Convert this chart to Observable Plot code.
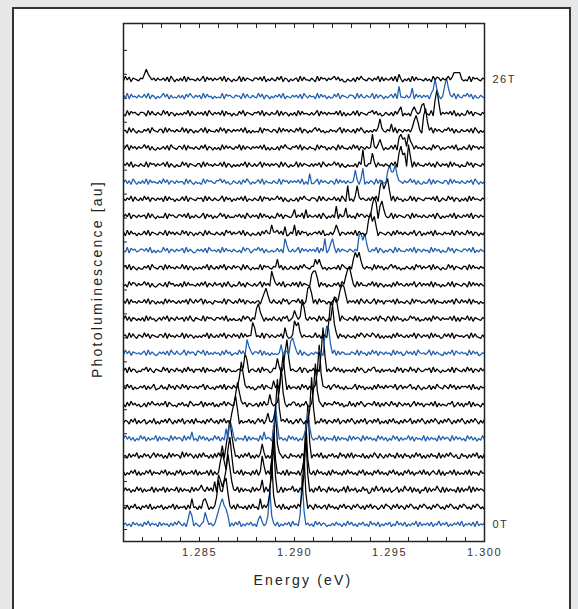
<!DOCTYPE html>
<html>
<head>
<meta charset="utf-8">
<script src="https://cdn.jsdelivr.net/npm/d3@7"></script>
<script src="https://cdn.jsdelivr.net/npm/@observablehq/plot@0.6"></script>
<style>
  html, body { margin:0; padding:0; width:578px; height:609px; overflow:hidden; background:#e6e7e9; font-family:"Liberation Sans", Arial, sans-serif; }
  #panel { position:absolute; left:12px; top:7px; width:555px; height:640px; background:#fff; border:2px solid #333; }
  #chart { position:absolute; left:0; top:0; }
  #chart svg text { letter-spacing:1.5px; }
  .title { position:absolute; font-size:14px; letter-spacing:2.2px; color:#222; white-space:nowrap; transform:translate(-50%,-50%); }
  #ytitle { transform:translate(-50%,-50%) rotate(-90deg); }
</style>
</head>
<body>
<div id="panel"></div>
<div id="chart"></div>
<div class="title" id="xtitle" style="left:303px; top:580px;">Energy (eV)</div>
<div class="title" id="ytitle" style="left:97px; top:279px;">Photoluminescence [au]</div>
<script>
// magnetic field of each spectrum (T), bottom to top
const fields = [0,1,2,3,4,5,6,7,8,9,10,11,12,13,14,15,16,17,18,19,20,21,22,23,24,25,26];
const blueFields = [0,5,10,16,20,25];
const labelledFields = [0,26];
// energy grid of the spectra (eV)
const energyStart = 1.281;
const energyStep = 0.0001;
const xTicks = [1.281,1.282,1.283,1.284,1.285,1.286,1.287,1.288,1.289,1.290,1.291,1.292,1.293,1.294,1.295,1.296,1.297,1.298,1.299,1.300];
const xLabels = [1.285,1.290,1.295,1.300];
const yTicks = [277,263,249,235,221,207,193,179,165,151,137,123,109,95,81,67,53,39,25,11,-3];

// background noise level of each spectrum, one digit per grid step
const noise = [
"4635274635 2748364527 3645263748 5362745364 2573846352 7436452637 4825364735 2647352846 3725364728 4536274635 2847365243 6374526384 7352647352 8463725364 7253846372 5364827354 6372548364 7253647382 5463728354 6374528364",
"5372648352 6473825364 7253648273 5462738452 6374825364 7382546372 8453627384 5263748253 6472835264 7385246375 2846357284 6352748365 2748536274 8365247386 5274836527 4863527486 3527486352 7486352748 6352748635 2748536274",
"3746253847 2635482736 4827365482 7364528374 6253847362 5483726354 8273645283 7465283746 5238274659 3627481536 2749365284 7362548293 6472538461 2739458263 7245826395 4827361548 2736495282 7364528273 6492837465 3726458362",
"6253748262 5374826453 7482635274 8263547382 6354728263 5473826354 7382645273 8264537382 6453728264 5372846353 7284635272 8463527384 6352748263 5274836352 7483625274 8362547383 6257438262 5473826353 7382645274 5362748352",
"4527364825 3746258374 6252837465 2938475262 7384526273 8462537384 5263748252 6374825263 7485263274 5362748252 6473825264 7352846273 8264537252 6385274263 7452836274 5263847252 6374528263 7485362274 5263748252 7364825374",
"5847362538 4726354827 3645283746 5283746352 8473625384 7263548372 6453827364 5283746528 3746352847 3625384726 3548372645 3827364528 3746528374 6352847362 5384726354 8372645382 7364528374 6528374635 2847362538 4726354827",
"3652748263 5724638252 6473852637 4825637284 5362748536 2748362574 8263547362 5847263548 3625748362 4738526374 6253847265 3748256374 8526374825 6374825362 7483526374 5826374852 6374852637 4852637485 2637485263 7485263748",
"5273846352 3627485463 6482753426 4735286354 5827364725 2648375436 4385726534 6273845263 5748362547 7362548326 3648527465 4857362438 3627485256 5483726375 3846275364 6258374625 5473826354 3658247362 6482735426 4736285364",
"6384725346 4726358234 7352846275 3847265463 6582743526 4738265374 5283746352 3648275436 4837562735 5362847263 4728365472 6847352634 3582746253 5273846374 6648257364 6835274253 4726385437 5384726365 6472835264 5738264352",
"4728365243 6583742654 3847265374 5273846265 6382745436 4837265343 5647382564 3728465237 6482735346 4358276254 7263548363 5847362545 3628475236 4783526354 6352847265 3846275346 5728364253 4638275436 3847265374 6283745263",
"3847265453 5728364236 4637285374 3582746527 6482735364 5273846245 3847265736 6482735253 4357286364 5738264235 3648527456 4827365343 6538274526 3847265364 5283746237 4637285453 5827364326 3648275464 5283746235 4736285364",
"5628374265 3847265436 6382745364 4827365253 5364827436 3748265374 6283745527 4538276364 3647285236 5728364453 4836275346 6382745264 3527486375 4863725253 5273846436 3648275364 6283745237 4738265453 5628374326 3847265436",
"4837265353 6283745246 3748265374 5627384265 4382756436 6473825353 3528476264 5847263537 4362758246 3847265374 6528374253 4736285436 5382746364 3647285527 6283745253 4857362436 3628475364 5473826265 4837265436 5283746353",
"6382745364 4738265253 5283746436 3647285374 6827354265 4538276436 3847265353 5628374537 4362857246 6483725364 3728465253 5847362436 4637285374 3582746265 6472835436 4283756353 5738264436 3647285374 6382745253 4736285364",
"3528476364 5847263246 4372856353 6283745436 3748265374 5627384253 4836275436 3582746364 6473825537 4728365436 5382746253 3647285364 6528374436 4837265253 5273846436 3648257364 6382745253 4738265436 5283746364 3847265253",
"5738264253 3647285436 6283745364 4837265253 5364827436 3748265374 6528374253 4382756436 5847263364 3627485436 6482735253 4537286436 3748265364 5283746253 6847352436 4362857364 5728364253 3847265436 6283745364 5473826253",
"4382756346 6473825253 3847265364 5728364236 4637285453 6283745364 3528476246 5847263353 4736285436 3582746364 6382745253 4827365436 5364827374 3648275253 6528374436 4738265364 5283746253 3847265436 6473825364 4528374263",
"6283745253 4738265436 5382746364 3847265253 6528374436 4362857364 5738264253 3627485436 6847352364 4283756253 5647382436 3748265364 6382745253 4837265436 5273846364 3648257253 6472835436 4538276364 3847265253 6374825436",
"3748265364 5628374253 4382756436 6473825364 3582746253 5847263436 4736285364 6283745253 3847265436 5364827364 4637285253 6382745436 3528476364 5738264253 4827365436 6283745364 3647285253 5473826436 4738265364 5283746253",
"5364827436 3847265364 6283745253 4738265436 5628374364 3582746253 6473825436 4382756364 5847263253 3627485436 6528374364 4736285253 5283746436 3748265364 6382745253 4837265436 5647382364 3847265253 6283745436 4728365364",
"4736285253 6382745436 3847265364 5528374253 4283756436 6847352364 3627485253 5738264436 4382756364 6473825253 3582746436 5283746364 4637285253 6528374436 3748265364 5847263253 4827365436 6283745364 3647285253 5364827436",
"6473825436 4382756364 5738264253 3847265436 6283745364 4738265253 5364827436 3582746364 6528374253 4827365436 3647285364 5847263253 4362857436 6382745364 3748265253 5628374436 4736285364 6283745253 3847265436 4527364825",
"3582746364 5847263253 4637285436 6382745364 3748265253 5283746436 4827365364 6473825253 3627485436 5738264364 4283756253 6528374436 3847265364 5364827253 4738265436 6283745364 3528476253 5647382436 4382756364 6374825253",
"5528374253 3647285436 6283745364 4837265253 5738264436 3847265364 6473825253 4382756436 5283746364 3748265253 6847352436 4536827364 3627485253 5364827436 4738265364 6382745253 3582746436 5847263364 4637285253 5728364436",
"4283756436 6528374364 3847265253 5364827436 4637285364 6382745253 3748265436 5738264364 4827365253 6283745436 3582746364 5473826253 4738265436 6847352364 3627485253 5283746436 4382756364 6473825253 3847265436 4736285364",
"6382745364 4738265253 5847263436 3627485364 6283745253 4382756436 5528374364 3847265253 6473825436 4637285364 5283746253 3748265436 6528374364 4827365253 5738264436 3582746364 6283745253 4364827436 5847263364 3728465253",
"3847265436 5283746364 4637285253 6382745436 3582746364 5738264253 4827365436 6473825364 3748265253 5628374436 4283756364 6847352253 3627485436 5364827364 4738265253 6283745436 3528476364 5847263253 4382756436 5647382364"
];

// emission lines of each spectrum: [energy (eV), intensity (au)]
const peaks = [
 [[1.2844,3],[1.2845,8],[1.2846,5],[1.2853,7],[1.2854,3],[1.2859,4],[1.2860,8],[1.2861,12],[1.2862,15],[1.2863,11],[1.2864,9],[1.2865,5],[1.2881,3],[1.2882,5],[1.2886,5],[1.2887,20],[1.2888,5],[1.2903,6],[1.2904,29],[1.2905,8]],
 [[1.2846,5],[1.2852,4],[1.2853,5],[1.2859,6],[1.2860,16],[1.2861,10],[1.2862,9],[1.2863,15],[1.2864,17],[1.2865,8],[1.2882,5],[1.2887,8],[1.2888,27],[1.2889,7],[1.2904,9],[1.2905,30],[1.2906,8]],
 [[1.2851,3],[1.2858,5],[1.2860,9],[1.2861,6],[1.2863,6],[1.2864,12],[1.2865,21],[1.2866,13],[1.2867,5],[1.2883,6],[1.2888,9],[1.2889,28],[1.2890,8],[1.2905,9],[1.2906,31],[1.2907,9]],
 [[1.2861,7],[1.2862,12],[1.2863,7],[1.2865,14],[1.2866,21],[1.2867,10],[1.2883,10],[1.2884,4],[1.2888,8],[1.2889,28],[1.2890,8],[1.2905,8],[1.2906,30],[1.2907,8]],
 [[1.2862,6],[1.2864,6],[1.2865,14],[1.2866,21],[1.2867,12],[1.2868,5],[1.2883,7],[1.2889,9],[1.2890,27],[1.2891,7],[1.2906,9],[1.2907,30],[1.2908,8]],
 [[1.2846,4],[1.2864,6],[1.2866,11],[1.2867,7],[1.2884,4],[1.2889,6],[1.2890,20],[1.2891,8],[1.2906,6],[1.2907,16],[1.2908,7]],
 [[1.2867,5],[1.2868,10],[1.2869,15],[1.2870,7],[1.2886,5],[1.2890,7],[1.2891,25],[1.2892,8],[1.2908,7],[1.2909,26],[1.2910,8]],
 [[1.2869,6],[1.2870,13],[1.2871,7],[1.2887,6],[1.2892,8],[1.2893,22],[1.2894,7],[1.2910,8],[1.2911,24],[1.2912,8]],
 [[1.2871,6],[1.2872,15],[1.2873,8],[1.2889,4],[1.2893,9],[1.2894,19],[1.2895,7],[1.2912,9],[1.2913,25],[1.2914,8]],
 [[1.2874,10],[1.2875,6],[1.2891,7],[1.2895,10],[1.2896,18],[1.2897,7],[1.2914,10],[1.2915,25],[1.2916,9]],
 [[1.2875,8],[1.2876,4],[1.2893,5],[1.2898,7],[1.2899,9],[1.2900,5],[1.2916,10],[1.2917,16],[1.2918,14],[1.2919,5]],
 [[1.2878,8],[1.2879,5],[1.2895,5],[1.2900,9],[1.2901,6],[1.2902,8],[1.2918,8],[1.2919,20],[1.2920,18],[1.2921,7]],
 [[1.2880,6],[1.2881,9],[1.2882,4],[1.2900,5],[1.2904,10],[1.2905,7],[1.2920,8],[1.2921,13],[1.2922,12],[1.2923,5]],
 [[1.2884,5],[1.2885,8],[1.2886,4],[1.2907,8],[1.2908,9],[1.2909,5],[1.2924,7],[1.2925,10],[1.2926,9],[1.2927,4]],
 [[1.2888,8],[1.2889,4],[1.2909,6],[1.2910,8],[1.2911,8],[1.2912,4],[1.2927,5],[1.2928,9],[1.2929,10],[1.2930,5]],
 [[1.2891,5],[1.2911,5],[1.2913,5],[1.2931,5],[1.2932,9],[1.2933,6],[1.2934,9],[1.2935,4]],
 [[1.2895,7],[1.2896,3],[1.2916,7],[1.2919,4],[1.2920,7],[1.2934,9],[1.2935,10],[1.2936,6],[1.2937,10],[1.2938,4]],
 [[1.2888,5],[1.2895,4],[1.2900,5],[1.2922,5],[1.2939,8],[1.2940,12],[1.2941,7],[1.2942,10],[1.2943,4]],
 [[1.2900,4],[1.2906,4],[1.2922,6],[1.2927,5],[1.2941,7],[1.2942,11],[1.2943,8],[1.2945,6],[1.2946,9],[1.2947,4]],
 [[1.2928,8],[1.2933,8],[1.2945,7],[1.2946,11],[1.2947,6],[1.2948,9],[1.2949,12],[1.2950,5]],
 [[1.2908,5],[1.2932,7],[1.2936,8],[1.2949,6],[1.2950,10],[1.2951,6],[1.2952,6],[1.2953,10],[1.2954,4]],
 [[1.2936,9],[1.2941,7],[1.2955,7],[1.2956,11],[1.2957,6],[1.2958,7],[1.2960,12],[1.2961,5]],
 [[1.2941,8],[1.2945,5],[1.2955,6],[1.2956,8],[1.2957,5],[1.2958,6],[1.2960,8],[1.2961,4]],
 [[1.2945,7],[1.2951,4],[1.2963,6],[1.2964,9],[1.2965,5],[1.2968,9],[1.2969,13],[1.2970,5]],
 [[1.2956,4],[1.2963,4],[1.2967,5],[1.2968,6],[1.2974,8],[1.2975,14],[1.2976,6]],
 [[1.2955,6],[1.2962,5],[1.2973,4],[1.2974,10],[1.2975,4],[1.2979,6],[1.2980,11],[1.2981,5]],
 [[1.2821,3],[1.2822,6],[1.2823,3],[1.2955,3],[1.2984,4],[1.2985,4],[1.2986,4],[1.2987,4]]
];

const offset = 10;        // vertical offset between spectra (au)
const noiseScale = 0.55;  // au per noise digit

const traces = fields.map((f, i) => {
  const digits = noise[i].replace(/\s+/g, "");
  const pts = Array.from(digits, (c, k) => ({field: f, e: energyStart + k * energyStep, v: i * offset + (+c - 4.5) * noiseScale}));
  for (const [e, h] of peaks[i]) {
    const k = Math.round((e - energyStart) / energyStep);
    if (pts[k]) pts[k].v = i * offset + h;
  }
  return pts;
});

const chart = Plot.plot({
  width: 578,
  height: 600,
  marginLeft: 123,
  marginRight: 94,
  marginTop: 23,
  marginBottom: 59,
  x: {domain: [1.281, 1.300]},
  y: {domain: [-10, 292.7]},
  style: {fontFamily: "'Liberation Sans', Arial, sans-serif", fontSize: "11px", color: "#333", background: "transparent", overflow: "visible"},
  marks: [
    ...traces.map((pts, i) => Plot.line(pts, {
      x: "e", y: "v",
      stroke: blueFields.includes(fields[i]) ? "#1f5fb0" : "#000",
      strokeWidth: 1.25, strokeLinejoin: "miter", curve: "linear", clip: true
    })),
    Plot.axisX({ticks: xTicks, tickSize: -4, tickFormat: () => "", label: null, stroke: "#222"}),
    Plot.axisX({anchor: "top", ticks: xTicks, tickSize: -4, tickFormat: () => "", label: null, stroke: "#222"}),
    Plot.axisX({ticks: xLabels, tickSize: 0, tickPadding: 7, tickFormat: d3.format(".3f"), label: null, fill: "#333"}),
    Plot.axisY({ticks: yTicks, tickSize: -4, tickFormat: () => "", label: null, stroke: "#222"}),
    Plot.frame({stroke: "#222", strokeWidth: 1.5}),
    Plot.text(labelledFields, {
      y: d => fields.indexOf(d) * offset,
      text: d => d + "T",
      frameAnchor: "right", dx: 8, textAnchor: "start", fontSize: 11, fill: "#333"
    })
  ]
});
document.getElementById("chart").appendChild(chart);
</script>
</body>
</html>
